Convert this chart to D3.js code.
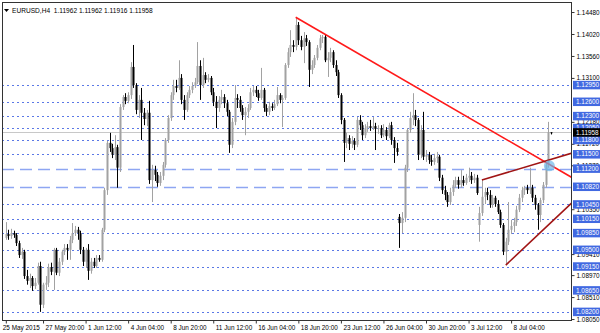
<!DOCTYPE html>
<html>
<head>
<meta charset="utf-8">
<script src="https://cdn.jsdelivr.net/npm/d3@7"></script>
<style>
  body { margin: 0; background: #fff; }
  svg text { font-family: "Liberation Sans", Arial, sans-serif; }
</style>
</head>
<body>
<div id="chart"></div>
<script>
// EURUSD H4 candles, [open, high, low, close]
const candles = [
  [1.0975,1.1008,1.0971,1.0983],[1.0983,1.0992,1.0971,1.0979],[1.0979,1.0994,1.0973,1.0985],[1.0985,1.0990,1.0975,1.0981],
  [1.0981,1.0985,1.0958,1.0964],[1.0964,1.0969,1.0933,1.0939],[1.0939,1.0954,1.0931,1.0946],[1.0946,1.0950,1.0889,1.0895],
  [1.0895,1.0908,1.0877,1.0885],[1.0885,1.0900,1.0870,1.0891],[1.0891,1.0895,1.0864,1.0874],[1.0874,1.0891,1.0868,1.0881],
  [1.0881,1.0923,1.0877,1.0916],[1.0916,1.0925,1.0820,1.0835],[1.0835,1.0881,1.0828,1.0877],[1.0877,1.0895,1.0866,1.0881],
  [1.0881,1.0921,1.0872,1.0914],[1.0914,1.0923,1.0897,1.0904],[1.0904,1.0954,1.0866,1.0950],[1.0950,1.0954,1.0897,1.0902],
  [1.0902,1.0933,1.0895,1.0925],[1.0925,1.0950,1.0918,1.0946],[1.0946,1.0962,1.0939,1.0954],[1.0954,1.0962,1.0929,1.0950],
  [1.0950,1.0979,1.0929,1.0971],[1.0971,1.1006,1.0964,1.0985],[1.0985,1.1000,1.0979,1.0992],[1.0992,1.0998,1.0971,1.0985],
  [1.0985,1.0990,1.0941,1.0950],[1.0950,1.0956,1.0916,1.0925],[1.0925,1.0954,1.0912,1.0950],[1.0950,1.0962,1.0887,1.0906],
  [1.0906,1.0933,1.0900,1.0925],[1.0925,1.0933,1.0912,1.0916],[1.0916,1.0939,1.0912,1.0933],[1.0933,1.0939,1.0925,1.0929],
  [1.0929,1.0996,1.0925,1.0992],[1.0992,1.1080,1.0987,1.1075],[1.1075,1.1178,1.1065,1.1174],[1.1174,1.1195,1.1155,1.1163],
  [1.1163,1.1172,1.1142,1.1149],[1.1149,1.1190,1.1138,1.1165],[1.1165,1.1170,1.1080,1.1122],[1.1122,1.1255,1.1113,1.1249],
  [1.1249,1.1274,1.1243,1.1270],[1.1270,1.1278,1.1255,1.1262],[1.1262,1.1280,1.1257,1.1274],[1.1274,1.1343,1.1266,1.1333],
  [1.1333,1.1379,1.1289,1.1295],[1.1295,1.1299,1.1234,1.1243],[1.1243,1.1274,1.1226,1.1264],[1.1264,1.1289,1.1180,1.1237],
  [1.1237,1.1247,1.1211,1.1224],[1.1224,1.1243,1.1209,1.1237],[1.1237,1.1262,1.1088,1.1096],[1.1096,1.1128,1.1050,1.1117],
  [1.1117,1.1126,1.1094,1.1107],[1.1107,1.1113,1.1082,1.1090],[1.1090,1.1113,1.1084,1.1105],[1.1105,1.1134,1.1096,1.1128],
  [1.1128,1.1184,1.1122,1.1180],[1.1180,1.1232,1.1174,1.1226],[1.1226,1.1280,1.1220,1.1274],[1.1274,1.1306,1.1264,1.1293],
  [1.1293,1.1306,1.1280,1.1289],[1.1289,1.1347,1.1285,1.1310],[1.1310,1.1318,1.1255,1.1264],[1.1264,1.1274,1.1222,1.1243],
  [1.1243,1.1280,1.1239,1.1274],[1.1274,1.1293,1.1268,1.1285],[1.1285,1.1301,1.1278,1.1293],[1.1293,1.1310,1.1289,1.1301],
  [1.1301,1.1385,1.1297,1.1335],[1.1335,1.1347,1.1264,1.1295],[1.1295,1.1352,1.1289,1.1316],[1.1316,1.1322,1.1299,1.1306],
  [1.1306,1.1318,1.1301,1.1310],[1.1310,1.1314,1.1274,1.1280],[1.1280,1.1289,1.1251,1.1260],[1.1260,1.1272,1.1205,1.1247],
  [1.1247,1.1272,1.1239,1.1264],[1.1264,1.1285,1.1255,1.1270],[1.1270,1.1276,1.1247,1.1257],[1.1257,1.1264,1.1230,1.1239],
  [1.1239,1.1243,1.1153,1.1170],[1.1170,1.1226,1.1163,1.1218],[1.1218,1.1295,1.1211,1.1268],[1.1268,1.1276,1.1247,1.1264],
  [1.1264,1.1272,1.1239,1.1247],[1.1247,1.1253,1.1222,1.1232],[1.1232,1.1249,1.1190,1.1239],[1.1239,1.1255,1.1226,1.1247],
  [1.1247,1.1289,1.1243,1.1280],[1.1280,1.1293,1.1272,1.1285],[1.1285,1.1293,1.1270,1.1278],[1.1278,1.1285,1.1262,1.1268],
  [1.1268,1.1331,1.1264,1.1285],[1.1285,1.1289,1.1239,1.1247],[1.1247,1.1255,1.1230,1.1239],[1.1239,1.1260,1.1232,1.1251],
  [1.1251,1.1257,1.1241,1.1247],[1.1247,1.1264,1.1243,1.1255],[1.1255,1.1291,1.1251,1.1274],[1.1274,1.1278,1.1257,1.1264],
  [1.1264,1.1274,1.1207,1.1268],[1.1268,1.1341,1.1264,1.1337],[1.1337,1.1373,1.1331,1.1364],[1.1364,1.1410,1.1354,1.1379],
  [1.1379,1.1389,1.1364,1.1375],[1.1375,1.1437,1.1368,1.1421],[1.1421,1.1427,1.1379,1.1389],[1.1389,1.1398,1.1368,1.1375],
  [1.1375,1.1406,1.1341,1.1393],[1.1393,1.1400,1.1377,1.1385],[1.1385,1.1389,1.1291,1.1327],[1.1327,1.1347,1.1318,1.1337],
  [1.1337,1.1358,1.1331,1.1352],[1.1352,1.1379,1.1347,1.1373],[1.1373,1.1400,1.1368,1.1393],[1.1393,1.1400,1.1383,1.1396],
  [1.1396,1.1402,1.1343,1.1347],[1.1347,1.1364,1.1312,1.1352],[1.1352,1.1373,1.1343,1.1364],[1.1364,1.1368,1.1331,1.1337],
  [1.1337,1.1347,1.1314,1.1322],[1.1322,1.1327,1.1268,1.1274],[1.1274,1.1278,1.1213,1.1222],[1.1222,1.1226,1.1134,1.1174],
  [1.1174,1.1195,1.1163,1.1184],[1.1184,1.1190,1.1159,1.1172],[1.1172,1.1188,1.1163,1.1178],[1.1178,1.1184,1.1159,1.1170],
  [1.1170,1.1228,1.1165,1.1222],[1.1222,1.1232,1.1201,1.1211],[1.1211,1.1218,1.1180,1.1190],[1.1190,1.1213,1.1184,1.1205],
  [1.1205,1.1218,1.1197,1.1209],[1.1209,1.1222,1.1199,1.1205],[1.1205,1.1228,1.1201,1.1209],[1.1209,1.1216,1.1159,1.1203],
  [1.1203,1.1211,1.1193,1.1205],[1.1205,1.1211,1.1184,1.1190],[1.1190,1.1213,1.1186,1.1201],[1.1201,1.1207,1.1180,1.1188],
  [1.1188,1.1216,1.1184,1.1211],[1.1211,1.1218,1.1170,1.1180],[1.1180,1.1186,1.1132,1.1163],[1.1163,1.1174,1.1147,1.1155],
  [1.1019,1.1025,1.0954,1.1006],[1.1006,1.1029,1.0985,1.1017],[1.1017,1.1128,1.1008,1.1122],[1.1122,1.1205,1.1113,1.1201],
  [1.1201,1.1239,1.1195,1.1226],[1.1226,1.1278,1.1211,1.1232],[1.1232,1.1243,1.1209,1.1222],[1.1222,1.1226,1.1138,1.1149],
  [1.1149,1.1211,1.1142,1.1201],[1.1201,1.1239,1.1138,1.1145],[1.1145,1.1159,1.1134,1.1149],[1.1149,1.1155,1.1130,1.1138],
  [1.1138,1.1149,1.1126,1.1134],[1.1134,1.1151,1.1128,1.1142],[1.1142,1.1155,1.1132,1.1145],[1.1145,1.1149,1.1094,1.1101],
  [1.1101,1.1107,1.1067,1.1075],[1.1075,1.1084,1.1054,1.1065],[1.1065,1.1071,1.1040,1.1050],[1.1050,1.1080,1.1044,1.1071],
  [1.1071,1.1096,1.1063,1.1086],[1.1086,1.1103,1.1080,1.1096],[1.1096,1.1103,1.1078,1.1086],[1.1086,1.1117,1.1080,1.1096],
  [1.1096,1.1105,1.1084,1.1090],[1.1090,1.1109,1.1086,1.1101],[1.1101,1.1122,1.1092,1.1105],[1.1105,1.1113,1.1088,1.1096],
  [1.1096,1.1109,1.1090,1.1101],[1.1101,1.1107,1.1065,1.1069],[1.1002,1.1040,1.0967,1.1027],[1.1027,1.1096,1.1021,1.1061],
  [1.1061,1.1080,1.1046,1.1071],[1.1071,1.1080,1.1054,1.1065],[1.1065,1.1075,1.1038,1.1044],[1.1044,1.1065,1.1038,1.1059],
  [1.1059,1.1063,1.1040,1.1046],[1.1046,1.1054,1.1025,1.1029],[1.1029,1.1034,1.0996,1.1002],[1.1002,1.1006,1.0939,1.0946],
  [1.0946,1.0975,1.0918,1.0967],[1.0967,1.1050,1.0960,1.0992],[1.0992,1.1013,1.0983,1.1000],[1.1000,1.1017,1.0987,1.1008],
  [1.1008,1.1042,1.1000,1.1034],[1.1034,1.1067,1.1029,1.1059],[1.1059,1.1082,1.1050,1.1075],[1.1075,1.1084,1.1065,1.1080],
  [1.1080,1.1086,1.1067,1.1075],[1.1075,1.1122,1.1067,1.1080],[1.1080,1.1086,1.1050,1.1059],[1.1059,1.1065,1.1034,1.1044],
  [1.1044,1.1048,1.0992,1.1023],[1.1023,1.1059,1.1008,1.1054],[1.1054,1.1092,1.1048,1.1086],[1.1086,1.1134,1.1080,1.1128],
  [1.1128,1.1218,1.1122,1.11962],[1.11962,1.11962,1.11916,1.11958]
];

const timeBars = [0, 14, 30, 46, 62, 78, 94, 110, 126, 142, 158, 174, 190];
const timeLabels = ["25 May 2015", "27 May 20:00", "1 Jun 12:00", "4 Jun 04:00", "8 Jun 20:00", "11 Jun 12:00",
  "16 Jun 04:00", "18 Jun 20:00", "23 Jun 12:00", "26 Jun 04:00", "30 Jun 20:00", "3 Jul 12:00", "8 Jul 04:00"];

// scale labels not fully covered by the level tags
const priceTicks = [1.14480, 1.14020, 1.13560, 1.13100, 1.12180, 1.11720, 1.11270,
  1.10350, 1.09410, 1.08970, 1.08510, 1.08050];

const dottedLevels = [1.12950, 1.12600, 1.12300, 1.12050, 1.11800, 1.11500,
  1.10450, 1.10150, 1.09850, 1.09500, 1.09150, 1.08650, 1.08200];
const dashedLevels = [1.11200, 1.10820];

const lastPrice = 1.11958;
const titleText = "EURUSD,H4  1.11962 1.11962 1.11916 1.11958";

// trend lines as [bar, price] anchors, drawn as rays to the right
const resistance = [[109, 1.1437], [200, 1.1143]];
const channelTop = [[179, 1.1096], [200, 1.1131]];
const channelBottom = [[188, 1.0918], [200, 1.0981]];
const marker = [204, 1.1126];

const W = 600, H = 333;
const plot = { left: 2, top: 2, right: 571, bottom: 320 };
const fontSize = 6.4;

const svg = d3.select("#chart").append("svg")
  .attr("width", W)
  .attr("height", H);

const x = d3.scaleLinear()
  .domain([0, candles.length - 1])
  .range([5.8, 551]);

const y = d3.scaleLinear()
  .domain([1.0803, 1.1469])
  .range([plot.bottom, plot.top]);

svg.append("defs").append("clipPath").attr("id", "clip")
  .append("rect")
  .attr("x", plot.left).attr("y", plot.top)
  .attr("width", plot.right - plot.left).attr("height", plot.bottom - plot.top);

const area = svg.append("g").attr("clip-path", "url(#clip)");

// horizontal levels
area.selectAll(".dot-level")
  .data(dottedLevels)
  .enter().append("line")
  .attr("x1", plot.left).attr("x2", plot.right)
  .attr("y1", d => Math.round(y(d)) + 0.5).attr("y2", d => Math.round(y(d)) + 0.5)
  .attr("stroke", "#5a78e6")
  .attr("stroke-width", 1)
  .attr("stroke-dasharray", "2,3");

area.selectAll(".dash-level")
  .data(dashedLevels)
  .enter().append("line")
  .attr("x1", plot.left).attr("x2", plot.right)
  .attr("y1", d => Math.round(y(d)) + 0.5).attr("y2", d => Math.round(y(d)) + 0.5)
  .attr("stroke", "#8ea6f2")
  .attr("stroke-width", 1.5)
  .attr("stroke-dasharray", "12,6");

area.append("line")
  .attr("x1", plot.left).attr("x2", plot.right)
  .attr("y1", Math.round(y(lastPrice)) + 0.5).attr("y2", Math.round(y(lastPrice)) + 0.5)
  .attr("stroke", "#c8c8c8");

// candles
const up = d => d[3] >= d[0];
const colour = d => up(d) ? "#a2a2a2" : "#000000";

const candle = area.selectAll(".candle")
  .data(candles)
  .enter().append("g")
  .attr("class", "candle");

candle.append("line")
  .attr("x1", (d, i) => Math.round(x(i)) + 0.5)
  .attr("x2", (d, i) => Math.round(x(i)) + 0.5)
  .attr("y1", d => y(d[1]))
  .attr("y2", d => y(d[2]))
  .attr("stroke", colour)
  .attr("stroke-width", 1);

candle.append("rect")
  .attr("x", (d, i) => Math.round(x(i)) - 0.5)
  .attr("width", 2)
  .attr("y", d => y(Math.max(d[0], d[3])))
  .attr("height", d => Math.max(1, Math.abs(y(d[0]) - y(d[3]))))
  .attr("fill", colour);

// trend lines
function ray(pts) {
  const [p0, p1] = pts;
  const slope = (p1[1] - p0[1]) / (p1[0] - p0[0]);
  const endBar = x.invert(plot.right + 2);
  return [[x(p0[0]), y(p0[1])], [x(endBar), y(p0[1] + slope * (endBar - p0[0]))]];
}

const lineGen = d3.line();

area.append("path")
  .attr("d", lineGen(ray(resistance)))
  .attr("stroke", "#ff1a1a").attr("stroke-width", 1.6).attr("fill", "none");

[channelTop, channelBottom].forEach(pts => {
  area.append("path")
    .attr("d", lineGen(ray(pts)))
    .attr("stroke", "#a01414").attr("stroke-width", 1.6).attr("fill", "none");
});

area.append("circle")
  .attr("cx", x(marker[0]) + 1)
  .attr("cy", y(marker[1]))
  .attr("r", 5.5)
  .attr("fill", "#6fb8ea")
  .attr("opacity", 0.7);

// frame
svg.append("rect")
  .attr("x", plot.left + 0.5).attr("y", plot.top + 0.5)
  .attr("width", plot.right - plot.left).attr("height", plot.bottom - plot.top)
  .attr("fill", "none").attr("stroke", "#333").attr("stroke-width", 1);

// price axis
const yAxis = d3.axisRight(y)
  .tickValues(priceTicks)
  .tickFormat(d3.format(".5f"))
  .tickSize(3)
  .tickPadding(2);

svg.append("g")
  .attr("transform", `translate(${plot.right + 0.5},0)`)
  .call(yAxis)
  .call(g => g.select(".domain").remove())
  .call(g => g.selectAll("line").attr("stroke", "#333"))
  .call(g => g.selectAll("text")
    .attr("font-size", fontSize)
    .attr("font-family", "Liberation Sans, Arial, sans-serif")
    .attr("fill", "#000"));

// level labels
const boxH = 8.5;
const levelTags = svg.append("g");
dottedLevels.concat(dashedLevels).forEach(v => {
  levelTags.append("rect")
    .attr("x", plot.right + 2).attr("y", y(v) - boxH / 2)
    .attr("width", W - plot.right - 2).attr("height", boxH)
    .attr("fill", "#4169e1");
  levelTags.append("text")
    .attr("x", plot.right + 5).attr("y", y(v))
    .attr("dy", "0.34em")
    .attr("font-size", fontSize)
    .attr("fill", "#fff")
    .text(d3.format(".5f")(v));
});

levelTags.append("rect")
  .attr("x", plot.right + 2).attr("y", y(lastPrice) - boxH / 2)
  .attr("width", W - plot.right - 2).attr("height", boxH)
  .attr("fill", "#000");
levelTags.append("text")
  .attr("x", plot.right + 5).attr("y", y(lastPrice))
  .attr("dy", "0.34em")
  .attr("font-size", fontSize)
  .attr("fill", "#fff")
  .text(d3.format(".5f")(lastPrice));

// time axis
const xAxis = d3.axisBottom(x)
  .tickValues(timeBars)
  .tickFormat((d, i) => timeLabels[i])
  .tickSize(3)
  .tickPadding(2);

svg.append("g")
  .attr("transform", `translate(0,${plot.bottom + 0.5})`)
  .call(xAxis)
  .call(g => g.select(".domain").remove())
  .call(g => g.selectAll("line").attr("stroke", "#333"))
  .call(g => g.selectAll("text")
    .attr("text-anchor", "start")
    .attr("dx", (d, i) => i === 0 ? -3.5 : 2)
    .attr("font-size", fontSize)
    .attr("font-family", "Liberation Sans, Arial, sans-serif")
    .attr("fill", "#000"));

// title
svg.append("path")
  .attr("d", "M4,9 L9,9 L6.5,12 Z")
  .attr("fill", "#000");
svg.append("text")
  .attr("x", 12).attr("y", 13)
  .attr("font-size", fontSize + 0.2)
  .attr("fill", "#000")
  .attr("xml:space", "preserve")
  .style("white-space", "pre")
  .text(titleText);
</script>
</body>
</html>
